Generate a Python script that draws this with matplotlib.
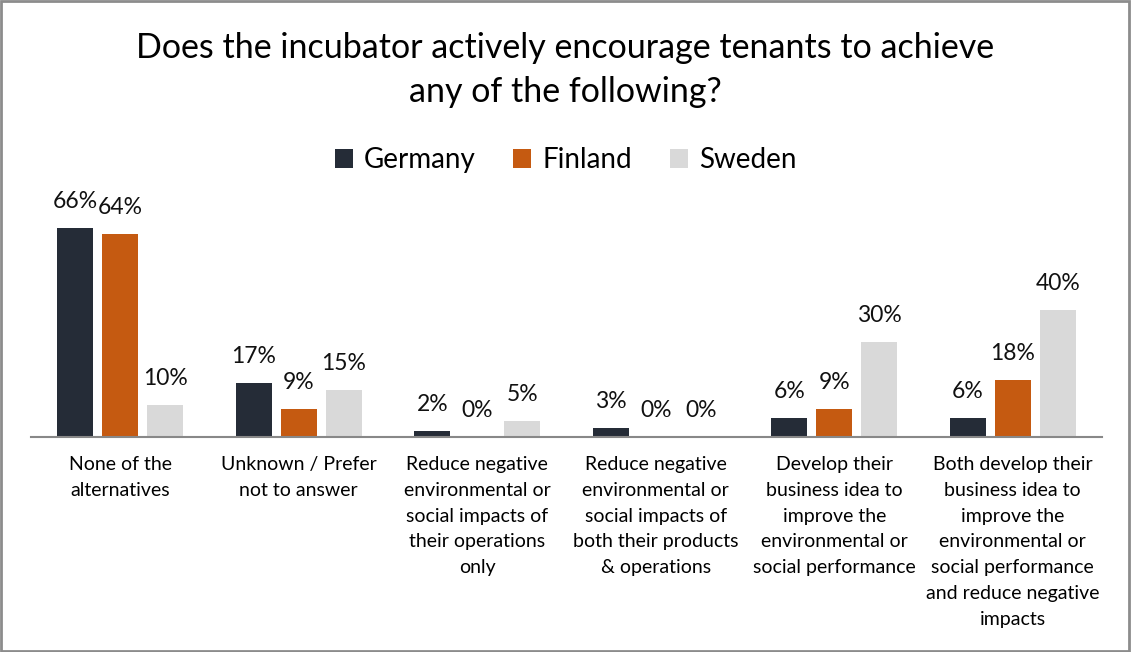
import matplotlib.pyplot as plt
import numpy as np
from matplotlib.patches import Rectangle

plt.rcParams['font.family'] = ['Lato', 'DejaVu Sans']

categories = [
    "None of the\nalternatives",
    "Unknown / Prefer\nnot to answer",
    "Reduce negative\nenvironmental or\nsocial impacts of\ntheir operations\nonly",
    "Reduce negative\nenvironmental or\nsocial impacts of\nboth their products\n& operations",
    "Develop their\nbusiness idea to\nimprove the\nenvironmental or\nsocial performance",
    "Both develop their\nbusiness idea to\nimprove the\nenvironmental or\nsocial performance\nand reduce negative\nimpacts",
]
germany = [66, 17, 2, 3, 6, 6]
finland = [64, 9, 0, 0, 9, 18]
sweden = [10, 15, 5, 0, 30, 40]

series = [("Germany", germany, "#252c37"),
          ("Finland", finland, "#c55a11"),
          ("Sweden", sweden, "#d9d9d9")]

fig = plt.figure(figsize=(11.31, 6.52), dpi=100)
ax = fig.add_axes([31 / 1131, 1 - 437 / 652, (1102 - 31) / 1131, (437 - 190) / 652])

x = np.arange(len(categories))
w = 0.2
offs = [-0.252, 0, 0.252]
for (name, vals, col), o in zip(series, offs):
    bars = ax.bar(x + o, vals, w, color=col, label=name)
    for b, v in zip(bars, vals):
        ax.annotate(f"{v}%", (b.get_x() + b.get_width() / 2, v),
                    xytext=(0, 19), textcoords="offset points",
                    ha="center", va="center", fontsize=16.5, color="#111111")

ax.set_xlim(-0.5, 5.5)
ax.set_ylim(0, 78)
ax.set_yticks([])
for s in ["top", "right", "left"]:
    ax.spines[s].set_visible(False)
ax.spines["bottom"].set_color("#888888")
ax.spines["bottom"].set_linewidth(1.5)
ax.set_xticks(x)
ax.set_xticklabels(categories, fontsize=14, linespacing=1.62, va="top")
ax.tick_params(axis="x", length=0, pad=14)

fig.text(0.5, 1 - 70 / 652,
         "Does the incubator actively encourage tenants to achieve\nany of the following?",
         ha="center", va="center", fontsize=24.5, linespacing=1.5)

fig.legend(loc="center", bbox_to_anchor=(0.5, 1 - 160 / 652), ncol=3,
           frameon=False, fontsize=20, handlelength=0.65, handleheight=0.65,
           columnspacing=1.35, handletextpad=0.4)

fig.patches.append(Rectangle((0.001, 0.001), 0.997, 0.997, transform=fig.transFigure,
                             fill=False, edgecolor="#8c8c8c", linewidth=2))

fig.savefig("out.png", dpi=100)
